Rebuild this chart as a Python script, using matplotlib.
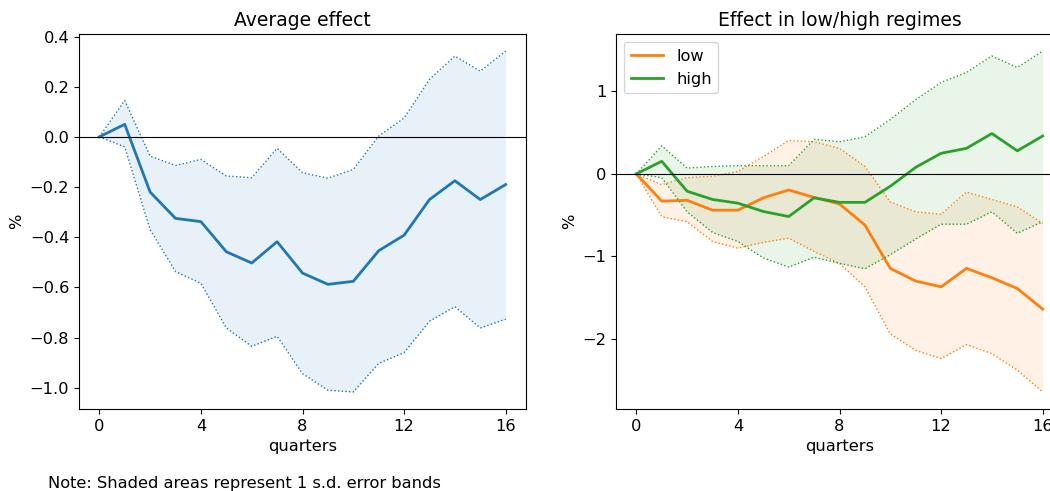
import numpy as np
import matplotlib
matplotlib.use("Agg")
import matplotlib.pyplot as plt

plt.rcParams['font.size'] = 11.7

quarters = np.arange(17)

# average effect (left panel)
avg_mean = [0, 0.05, -0.22, -0.325, -0.338, -0.458, -0.503, -0.418, -0.543,
            -0.588, -0.576, -0.454, -0.392, -0.25, -0.175, -0.25, -0.19]
avg_upper = [0, 0.145, -0.077, -0.114, -0.09, -0.156, -0.163, -0.046, -0.143,
             -0.165, -0.13, 0.003, 0.075, 0.229, 0.322, 0.262, 0.342]
avg_lower = [0, -0.04, -0.37, -0.537, -0.584, -0.762, -0.835, -0.795, -0.944,
             -1.01, -1.017, -0.903, -0.86, -0.735, -0.677, -0.762, -0.727]

# low regime
low_mean = [0, -0.33, -0.32, -0.44, -0.44, -0.29, -0.195, -0.285, -0.365,
            -0.62, -1.146, -1.30, -1.37, -1.146, -1.26, -1.39, -1.64]
low_upper = [0, -0.13, -0.045, -0.03, 0.03, 0.21, 0.405, 0.39, 0.31,
             0.09, -0.34, -0.46, -0.49, -0.22, -0.31, -0.40, -0.60]
low_lower = [0, -0.52, -0.58, -0.82, -0.90, -0.83, -0.78, -0.94, -1.085,
             -1.37, -1.94, -2.14, -2.24, -2.07, -2.18, -2.38, -2.645]

# high regime
high_mean = [0, 0.153, -0.21, -0.31, -0.355, -0.456, -0.517, -0.29, -0.345,
             -0.345, -0.15, 0.08, 0.25, 0.31, 0.49, 0.28, 0.46]
high_upper = [0, 0.34, 0.07, 0.09, 0.10, 0.10, 0.10, 0.42, 0.39,
              0.45, 0.66, 0.90, 1.11, 1.23, 1.43, 1.29, 1.49]
high_lower = [0, -0.045, -0.46, -0.71, -0.82, -1.02, -1.13, -1.01, -1.085,
              -1.15, -0.98, -0.79, -0.61, -0.61, -0.46, -0.72, -0.58]

fig = plt.figure(figsize=(10.5, 4.91), dpi=100)
ax1 = fig.add_axes([79 / 1050, 0.167, 447 / 1050, 0.7637])
ax2 = fig.add_axes([616 / 1050, 0.167, 447 / 1050, 0.7637])


def draw(ax, mean, upper, lower, color, label=None):
    ax.plot(quarters, mean, color=color, lw=2, label=label)
    ax.plot(quarters, upper, color=color, lw=1, ls=':')
    ax.plot(quarters, lower, color=color, lw=1, ls=':')
    ax.fill_between(quarters, lower, upper, color=color, alpha=0.1, lw=0)


draw(ax1, avg_mean, avg_upper, avg_lower, 'tab:blue')
ax1.axhline(0, color='black', lw=0.8)
ax1.set_title("Average effect", fontsize=13.5)
ax1.set_xlabel("quarters")
ax1.set_ylabel("%")
ax1.set_xticks([0, 4, 8, 12, 16])

draw(ax2, low_mean, low_upper, low_lower, 'tab:orange', 'low')
draw(ax2, high_mean, high_upper, high_lower, 'tab:green', 'high')
ax2.axhline(0, color='black', lw=0.8)
ax2.set_title("Effect in low/high regimes", fontsize=13.5)
ax2.set_xlabel("quarters")
ax2.set_ylabel("%")
ax2.set_xticks([0, 4, 8, 12, 16])
ax2.legend(loc='upper left')

fig.text(48 / 1050, 0.006, "Note: Shaded areas represent 1 s.d. error bands", fontsize=11.7)

fig.savefig("out.png", dpi=100)
